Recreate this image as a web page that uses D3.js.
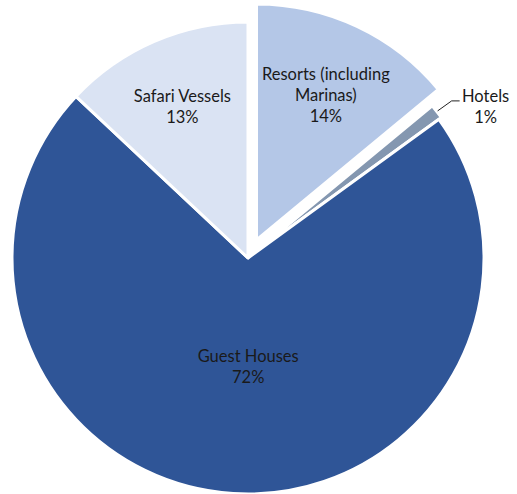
<!DOCTYPE html>
<html>
<head>
	<meta charset="utf-8">
	<script src="https://d3js.org/d3.v7.min.js"></script>
	<title>Tourist accommodation shares</title>
	<style>
		body { margin: 0; background: #fff; }
		text { font-family: Lato, "Open Sans", sans-serif; fill: #1a1a1a; }
	</style>
</head>
<body>
	<div id="chart"></div>

	<script type="text/javascript">

		// data, clockwise from 12 o'clock
		var categories = ["Resorts (including Marinas)", "Hotels", "Guest Houses", "Safari Vessels"];
		var shares = [14, 1, 72, 13];
		var labelLines = [["Resorts (including", "Marinas)"], ["Hotels"], ["Guest Houses"], ["Safari Vessels"]];
		var colors = ["#B4C7E7", "#8497B0", "#2F5597", "#DAE3F3"];

		var width = 517;
		var height = 494;
		var cx = 248, cy = 258;
		var radius = 236;

		var data = categories.map(function(c, i){
			return { name: c, value: shares[i], lines: labelLines[i], color: colors[i] };
		});

		var svg = d3.select("#chart").append("svg")
			.attr("width", width)
			.attr("height", height);

		var g = svg.append("g")
			.attr("transform", "translate(" + cx + "," + cy + ")");

		var pie = d3.pie()
			.sort(null)
			.value(function(d){ return d.value; });

		var arc = d3.arc()
			.innerRadius(0)
			.outerRadius(radius);

		var arcs = pie(data);

		// how far each slice is pulled out, and where its label sits
		var explode = { "Resorts (including Marinas)": 20, "Hotels": 3 };
		var labelR = { "Resorts (including Marinas)": 0.68, "Guest Houses": 0.46, "Safari Vessels": 0.70 };
		var labelDx = { "Guest Houses": 7, "Resorts (including Marinas)": 1 };

		function offset(d){
			var e = explode[d.data.name] || 0;
			var a = (d.startAngle + d.endAngle) / 2;
			return [Math.sin(a) * e, -Math.cos(a) * e];
		}

		g.selectAll("path")
			.data(arcs).enter().append("path")
			.attr("d", arc)
			.attr("transform", function(d){ return "translate(" + offset(d) + ")"; })
			.attr("fill", function(d){ return d.data.color; })
			.attr("stroke", "#fff")
			.attr("stroke-width", 3)
			.attr("stroke-linejoin", "round");

		var lineH = 21;
		var fontSize = 16.5;

		arcs.forEach(function(d){
			var pct = d.data.value + "%";
			var lines = d.data.lines.concat([pct]);
			var o = offset(d);
			var pos;

			if (labelR[d.data.name]) {
				var la = d3.arc().innerRadius(0).outerRadius(radius * labelR[d.data.name] * 2);
				var c = la.centroid(d);
				pos = [c[0] + o[0] + (labelDx[d.data.name] || 0), c[1] + o[1]];
			} else {
				// outside label with a leader line (Hotels)
				var a = (d.startAngle + d.endAngle) / 2;
				var p0 = [Math.sin(a) * (radius + 1) + o[0], -Math.cos(a) * (radius + 1) + o[1]];
				var p1 = [p0[0] + 14, p0[1] - 10];
				var p2 = [p1[0] + 8, p1[1]];
				g.append("polyline")
					.attr("points", [p0, p1, p2].map(function(p){ return p.join(","); }).join(" "))
					.attr("fill", "none")
					.attr("stroke", "#222")
					.attr("stroke-width", 1);
				pos = [p2[0] + 26, p2[1] + 6];
			}

			var t = g.append("text")
				.attr("text-anchor", "middle")
				.attr("font-size", fontSize);

			var top = pos[1] - (lines.length - 1) * lineH / 2 + 6;
			lines.forEach(function(s, i){
				t.append("tspan")
					.attr("x", pos[0])
					.attr("y", top + i * lineH)
					.text(s);
			});
		});

	</script>
</body>
</html>
